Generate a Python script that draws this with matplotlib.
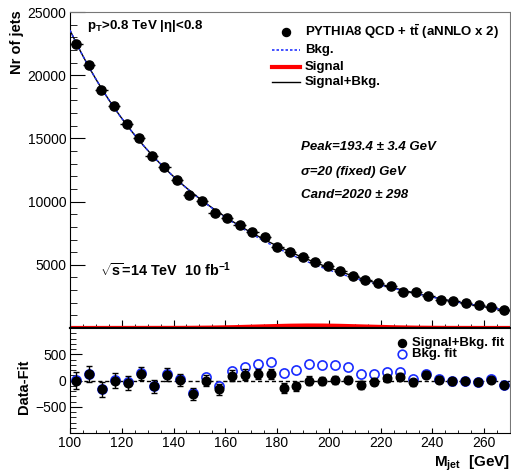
import numpy as np
import matplotlib
matplotlib.use("Agg")
import matplotlib.pyplot as plt
from matplotlib.ticker import MultipleLocator, FixedLocator

plt.rcParams["font.family"] = ["Liberation Sans", "DejaVu Sans"]
plt.rcParams["mathtext.fontset"] = "custom"
plt.rcParams["mathtext.rm"] = "Liberation Sans"
plt.rcParams["mathtext.bf"] = "Liberation Sans:bold"
plt.rcParams["mathtext.it"] = "Liberation Sans:italic"

# --- data: upper panel (35 bins over 100-270 GeV) ---
x_lo, x_hi = 100, 270
n_bins_top = 35
counts = [22460, 20810, 18836, 17538, 16140, 15057, 13635, 12766, 11716, 10554,
          10033, 9132, 8714, 8137, 7584, 7189, 6446, 6004, 5656, 5261,
          4866, 4471, 4076, 3760, 3555, 3286, 2868, 2812, 2496, 2236,
          2101, 1943, 1841, 1627, 1390]

# fit parameters shown on the plot
peak, peak_err = 193.4, 3.4
sigma = 20
cand, cand_err = 2020, 298

# --- data: lower panel (5 GeV bins) ---
resid_x = [102.5, 107.5, 112.5, 117.5, 122.5, 127.5, 132.5, 137.5, 142.5, 147.5,
           152.5, 157.5, 162.5, 167.5, 172.5, 177.5, 182.5, 187.5, 192.5, 197.5,
           202.5, 207.5, 212.5, 217.5, 222.5, 227.5, 232.5, 237.5, 242.5, 247.5,
           252.5, 257.5, 262.5, 267.5]
resid_sb = [0, 127, -171, 0, -44, 133, -114, 114, 13, -266,
            0, -165, 95, 114, 127, 127, -139, -108, -6, -13,
            13, 19, -82, -25, 44, 76, -32, 114, 19, -19,
            -13, -32, 19, -82]
resid_b = [5, 130, -165, 5, -38, 140, -105, 125, 25, -245,
           60, -100, 190, 266, 317, 361, 146, 209, 317, 304,
           304, 266, 133, 133, 165, 165, 32, 133, 32, -15,
           -10, -30, 20, -80]
resid_err = [155, 150, 145, 140, 135, 130, 126, 122, 118, 114,
             110, 106, 102, 99, 96, 93, 90, 87, 84, 81,
             78, 75, 72, 70, 68, 66, 64, 62, 60, 58,
             56, 54, 52, 50]

counts = np.array(counts, dtype=float)
bw = (x_hi - x_lo) / n_bins_top
xc = x_lo + (np.arange(n_bins_top) + 0.5) * bw

# smooth fit curves from the data
xf = np.linspace(x_lo, x_hi, 400)
coef = np.polyfit(xc, np.log(counts), 3)
sb_curve = np.exp(np.polyval(coef, xf))
sig_curve = cand * bw / (sigma * np.sqrt(2 * np.pi)) * np.exp(-0.5 * ((xf - peak) / sigma) ** 2)
bkg_curve = sb_curve - sig_curve

fig = plt.figure(figsize=(5.11, 4.74), dpi=100)
ax = fig.add_axes([70 / 511, 1 - 328 / 474, 440 / 511, 316 / 474])
axr = fig.add_axes([70 / 511, 1 - 433 / 474, 440 / 511, 105 / 474])

# upper panel
ax.plot(xf, sig_curve, color="red", lw=3, zorder=2)
ax.plot(xf, sb_curve, color="black", lw=1.0, zorder=3)
ax.plot(xf, bkg_curve, color="#2233ff", lw=1.0, ls=(0, (2, 1.5)), zorder=4)
ax.errorbar(xc, counts, xerr=bw / 2, yerr=np.sqrt(counts), fmt="o", color="black",
            ms=6.6, elinewidth=1, capsize=0, zorder=5)

ax.set_xlim(x_lo, x_hi)
ax.set_ylim(0, 25000)
ax.yaxis.set_major_locator(FixedLocator([5000, 10000, 15000, 20000, 25000]))
ax.yaxis.set_minor_locator(MultipleLocator(1000))
ax.xaxis.set_major_locator(MultipleLocator(20))
ax.xaxis.set_minor_locator(MultipleLocator(5))
ax.tick_params(axis="x", which="both", direction="in", labelbottom=False)
ax.tick_params(axis="x", which="major", length=5.8)
ax.tick_params(axis="x", which="minor", length=2.9)
ax.tick_params(axis="y", which="major", direction="in", length=10.5, labelsize=10, pad=2.5)
ax.tick_params(axis="y", which="minor", direction="in", length=5)
for s in ["top", "right"]:
    ax.spines[s].set_color("#777777")
ax.spines["bottom"].set_linewidth(1.5)

ax.text(0.0386, 0.957, r"p$_{\mathbf{T}}$>0.8 TeV |η|<0.8", transform=ax.transAxes,
        fontsize=9.6, fontweight="bold", va="center", ha="left")

# legend drawn by hand
ax.plot([0.491], [0.938], "o", color="black", ms=5.8, transform=ax.transAxes, clip_on=False)
ax.plot([0.459, 0.523], [0.880, 0.880], color="#2233ff", lw=1.2, ls=(0, (1.5, 1.2)), transform=ax.transAxes)
ax.plot([0.459, 0.523], [0.827, 0.827], color="red", lw=3, transform=ax.transAxes)
ax.plot([0.459, 0.523], [0.779, 0.779], color="black", lw=1.0, transform=ax.transAxes)
leg_labels = [r"PYTHIA8 QCD + $\mathbf{t\bar{t}}$ (aNNLO x 2)", "Bkg.", "Signal", "Signal+Bkg."]
for lab, yy in zip(leg_labels, [0.938, 0.880, 0.827, 0.779]):
    ax.text(0.534, yy, lab, transform=ax.transAxes, fontsize=9.5, fontweight="bold",
            va="center", ha="left")

ax.text(0.525, 0.574, f"Peak={peak}" + " ± " + f"{peak_err} GeV", transform=ax.transAxes,
        fontsize=9.5, fontweight="bold", fontstyle="italic", va="center")
ax.text(0.525, 0.495, f"σ={sigma} (fixed) GeV", transform=ax.transAxes,
        fontsize=9.5, fontweight="bold", fontstyle="italic", va="center")
ax.text(0.525, 0.421, f"Cand={cand}" + " ± " + f"{cand_err}", transform=ax.transAxes,
        fontsize=9.5, fontweight="bold", fontstyle="italic", va="center")
ax.text(0.068, 0.184, r"$\sqrt{\mathbf{s}}$=14 TeV  10 fb$^{\mathbf{-1}}$", transform=ax.transAxes,
        fontsize=10.4, fontweight="bold", va="center")

# lower panel
axr.axhline(0, color="black", lw=1, ls=(0, (3, 2)), zorder=1)
axr.plot(resid_x, resid_b, "o", mfc="none", mec="#1a2cff", mew=1.2, ms=6.6, zorder=2)
axr.errorbar(resid_x, resid_sb, yerr=resid_err, fmt="o", color="black", ms=6.2,
             elinewidth=1, capsize=2, capthick=1, zorder=3)

axr.set_xlim(x_lo, x_hi)
axr.set_ylim(-1000, 1000)
axr.yaxis.set_major_locator(FixedLocator([-500, 0, 500]))
axr.yaxis.set_minor_locator(MultipleLocator(100))
axr.xaxis.set_major_locator(MultipleLocator(20))
axr.xaxis.set_minor_locator(MultipleLocator(5))
axr.tick_params(axis="x", which="major", direction="in", length=3.5, labelsize=10, pad=2)
axr.tick_params(axis="x", which="minor", direction="in", length=2)
axr.tick_params(axis="y", which="major", direction="in", length=8.5, labelsize=10, pad=2.5)
axr.tick_params(axis="y", which="minor", direction="in", length=4.3)
for s in ["top", "right"]:
    axr.spines[s].set_color("#777777")
axr.spines["top"].set_color("black")
axr.spines["top"].set_linewidth(1.5)

axr.plot([0.754], [0.860], "o", color="black", ms=5.8, transform=axr.transAxes)
axr.plot([0.754], [0.750], "o", mfc="none", mec="#1a2cff", mew=1.2, ms=6.2, transform=axr.transAxes)
axr.text(0.777, 0.860, "Signal+Bkg. fit", transform=axr.transAxes, fontsize=9.5,
         fontweight="bold", va="center")
axr.text(0.777, 0.750, "Bkg. fit", transform=axr.transAxes, fontsize=9.5,
         fontweight="bold", va="center")

fig.text(0.034, 0.979, "Nr of jets", rotation=90, ha="center", va="top",
         fontsize=10.5, fontweight="bold")
fig.text(0.047, 1 - 387 / 474, "Data-Fit", rotation=90, ha="center", va="center",
         fontsize=10.5, fontweight="bold")
fig.text(0.998, 1 - 463 / 474, r"M$_{\mathbf{jet}}$  [GeV]", ha="right", va="center",
         fontsize=11, fontweight="bold")

fig.savefig("out.png", dpi=100)
